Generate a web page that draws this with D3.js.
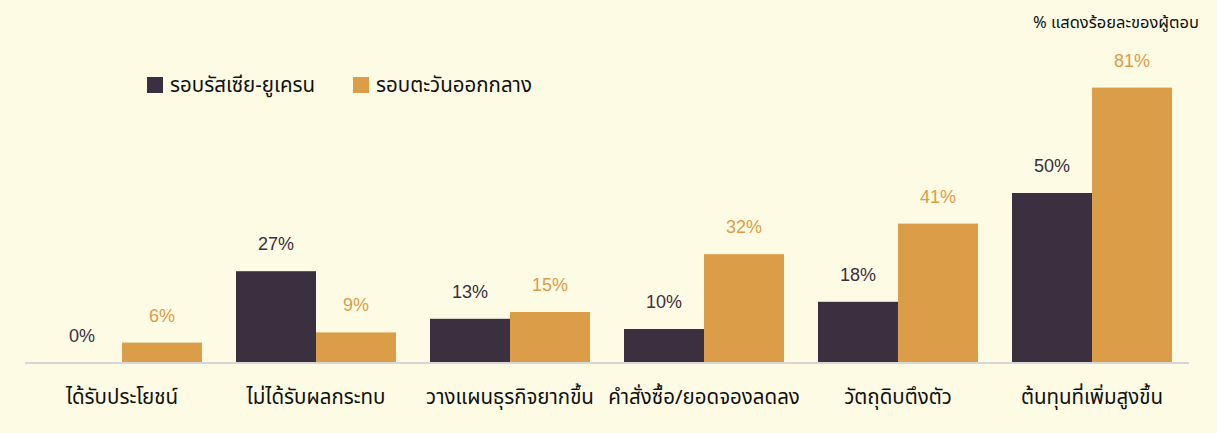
<!DOCTYPE html>
<html><head><meta charset="utf-8">
<script src="https://cdn.jsdelivr.net/npm/d3@7"></script>
<style>
html,body{margin:0;padding:0;background:#fdfbe4;}
svg{display:block;}
</style></head>
<body>
<svg id="chart" width="1217" height="433"></svg>
<script>
const categories = ["ได้รับประโยชน์","ไม่ได้รับผลกระทบ","วางแผนธุรกิจยากขึ้น","คำสั่งซื้อ/ยอดจองลดลง","วัตถุดิบตึงตัว","ต้นทุนที่เพิ่มสูงขึ้น"];
const seriesNames = ["รอบรัสเซีย-ยูเครน","รอบตะวันออกกลาง"];
const russiaUkraine = [0,27,13,10,18,50];
const middleEast = [6,9,15,32,41,81];
const colors = ["#3b3040","#dc9d48"];
const labelColors = ["#3b3040","#dc9d48"];
const note = "% แสดงร้อยละของผู้ตอบ";

const W=1217,H=433;
const svg=d3.select("#chart");
svg.append("rect").attr("width",W).attr("height",H).attr("fill","#fdfbe4");

const baseY=363;
const x0=d3.scaleBand().domain(categories).range([25,1189]).paddingInner(34/194).paddingOuter((42-25)/194);
const x1=d3.scaleBand().domain(seriesNames).range([0,x0.bandwidth()]);
const y=d3.scaleLinear().domain([0,100]).range([baseY,baseY-340]);

const data=categories.map((c,i)=>({cat:c,vals:[russiaUkraine[i],middleEast[i]]}));
const thaiFont="'Noto Sans Thai','Noto Sans','Loma','Garuda','Tlwg Typist',sans-serif";
const numFont="'Liberation Sans',Arial,sans-serif";

const g=svg.append("g");
const groups=g.selectAll("g.grp").data(data).join("g").attr("class","grp")
  .attr("transform",d=>`translate(${x0(d.cat)},0)`);
groups.selectAll("rect").data(d=>d.vals.map((v,j)=>({v,s:seriesNames[j],j})))
  .join("rect")
  .attr("x",d=>x1(d.s)).attr("width",x1.bandwidth())
  .attr("y",d=>y(d.v)).attr("height",d=>baseY-y(d.v))
  .attr("fill",d=>colors[d.j]);
groups.selectAll("text").data(d=>d.vals.map((v,j)=>({v,s:seriesNames[j],j})))
  .join("text")
  .attr("x",d=>x1(d.s)+x1.bandwidth()/2)
  .attr("y",d=>y(d.v)-21)
  .attr("text-anchor","middle")
  .attr("font-family",numFont).attr("font-size",18)
  .attr("fill",d=>labelColors[d.j])
  .text(d=>d.v+"%");

// axis baseline
const xAxis=d3.axisBottom(x0).tickSize(0).tickPadding(26);
const ax=svg.append("g").attr("transform",`translate(0,${baseY})`).call(xAxis);
ax.select(".domain").attr("stroke","#d6d6d6").attr("stroke-width",2).attr("d","M25,0H1189");
ax.selectAll(".tick text").attr("font-family",thaiFont).attr("font-size",20.5).attr("fill","#111").attr("dy","0.71em");

// legend
const leg=svg.append("g");
const legX=[147,353];
seriesNames.forEach((s,i)=>{
  leg.append("rect").attr("x",legX[i]).attr("y",77).attr("width",16).attr("height",16).attr("fill",colors[i]);
  leg.append("text").attr("x",legX[i]+23).attr("y",92).attr("font-family",thaiFont).attr("font-size",20.5).attr("fill","#111").text(s);
});

svg.append("text").attr("x",1199).attr("y",28).attr("text-anchor","end")
  .attr("font-family",thaiFont).attr("font-size",16.5).attr("fill","#111").text(note);
</script>
</body></html>
